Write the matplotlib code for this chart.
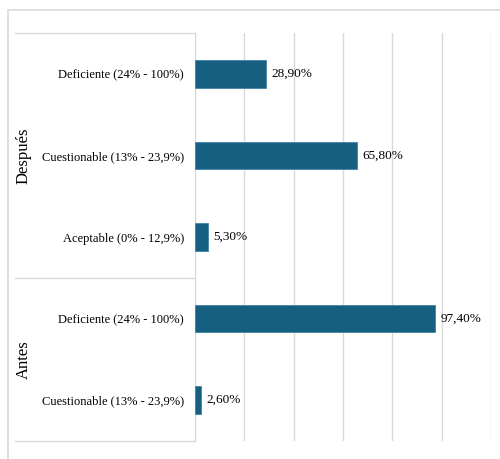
import matplotlib.pyplot as plt
from matplotlib.lines import Line2D

# datos
categorias = ['Deficiente (24% - 100%)', 'Cuestionable (13% - 23,9%)', 'Aceptable (0% - 12,9%)',
              'Deficiente (24% - 100%)', 'Cuestionable (13% - 23,9%)']
valores = [28.9, 65.8, 5.3, 97.4, 2.6]
grupos = ['Después', 'Antes']
tam_grupos = [3, 2]

plt.rcParams['font.family'] = ['Liberation Serif', 'DejaVu Serif']
gris = '#d9d9d9'
W, H = 500, 459

fig = plt.figure(figsize=(5, 4.59), dpi=100)
ax = fig.add_axes([195/W, 1 - 441/H, 296/W, 408/H])

pos = list(range(len(valores)))
ax.barh(pos, valores, height=0.34, color='#175f80', edgecolor='#3f86a6', linewidth=0.6, zorder=3)
for p, v in zip(pos, valores):
    ax.text(v + 2.2, p, f'{v:.2f}%'.replace('.', ','), va='center', ha='left', fontsize=9.5)

ax.set_xlim(0, 120)
ax.set_ylim(len(valores) - 0.5, -0.5)
ax.set_xticks(range(0, 121, 20))
ax.set_xticklabels([])
ax.tick_params(axis='x', length=0)
ax.set_yticks(pos)
ax.set_yticklabels(categorias, fontsize=9)
ax.tick_params(axis='y', length=0, pad=8)
ax.grid(axis='x', color=gris, linewidth=1, zorder=0)
for s in ['top', 'right', 'bottom']:
    ax.spines[s].set_visible(False)
ax.spines['left'].set_color(gris)

# lineas de grupos y etiquetas
def fy(y):
    # posicion en datos -> coordenada de figura
    return fig.transFigure.inverted().transform(ax.transData.transform((0, y)))[1]

inicio = -0.5
fig.add_artist(Line2D([15/W, 195/W], [fy(inicio)] * 2, color=gris, lw=1))
for g, n in zip(grupos, tam_grupos):
    fin = inicio + n
    fig.add_artist(Line2D([15/W, 195/W], [fy(fin)] * 2, color=gris, lw=1))
    fig.text(24/W, (fy(inicio) + fy(fin)) / 2, g, rotation=90, va='center', ha='center', fontsize=12)
    inicio = fin

# borde del grafico
fig.add_artist(Line2D([8/W, 1], [1 - 10/H] * 2, color=gris, lw=1.2))
fig.add_artist(Line2D([8/W, 8/W], [0, 1 - 10/H], color=gris, lw=1.2))

fig.savefig('out.png', dpi=100)
